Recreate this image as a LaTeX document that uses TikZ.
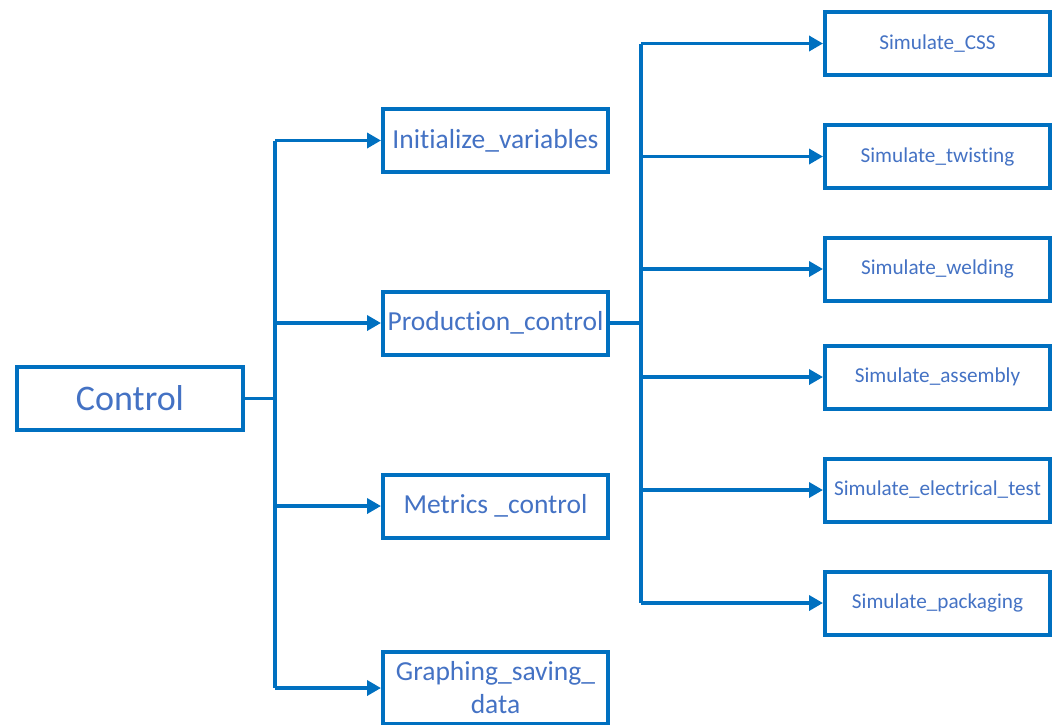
\documentclass[tikz,border=0pt]{standalone}
\usepackage{fontspec}
\setmainfont{Carlito}[Ligatures={NoCommon}]
\usetikzlibrary{arrows.meta}
\definecolor{boxblue}{HTML}{0070C0}
\definecolor{textblue}{HTML}{4472C4}
\begin{document}
\begin{tikzpicture}[x=1pt, y=-1pt, line join=miter,
    box/.style={draw=boxblue, line width=4pt, fill=white, text=textblue,
      minimum width=225pt, minimum height=63pt, inner sep=0pt, align=center},
    bigbox/.style={box, minimum width=226pt, font=\fontsize{36}{42}\selectfont},
    midbox/.style={box, font=\fontsize{27.5}{33}\selectfont},
    simbox/.style={box, font=\fontsize{21.2}{25}\selectfont},
    link/.style={draw=boxblue, line width=3.6pt},
    arr/.style={link, -{Triangle[length=14pt, width=15pt]}}]
  \useasboundingbox (0, 0) rectangle (1059, 724);
  \clip (0, 0) rectangle (1059, 724);

  % Root
  \node[bigbox] (ctrl) at (130, 398.5) {Control};

  % Second level
  \node[midbox] (init) at (495.5, 140.5) {Initialize\_variables};
  \node[midbox] (prod) at (495.5, 323) {Production\_control};
  \node[midbox] (metr) at (495.5, 506) {Metrics \_control};
  \node[midbox, minimum height=72.5pt] (graph) at (495.5, 688) {Graphing\_saving\_\\data};

  % Simulation steps
  \node[simbox] (css)   at (937.5, 43.5)  {Simulate\_CSS};
  \node[simbox] (twist) at (937.5, 156.5) {Simulate\_twisting};
  \node[simbox] (weld)  at (937.5, 269)   {Simulate\_welding};
  \node[simbox] (assy)  at (937.5, 377)   {Simulate\_assembly};
  \node[simbox] (elec)  at (937.5, 490)   {Simulate\_electrical\_test};
  \node[simbox] (pack)  at (937.5, 603)   {Simulate\_packaging};

  % Left trunk
  \coordinate (trunkL) at (275, 398.5);
  \draw[link] (ctrl.east) -- (trunkL);
  \draw[link] (trunkL |- init) -- (trunkL |- graph);
  \draw[arr] (trunkL |- init) -- (init.west);
  \draw[arr] (trunkL |- prod) -- (prod.west);
  \draw[arr] (trunkL |- metr) -- (metr.west);
  \draw[arr] (trunkL |- graph) -- (graph.west);

  % Right trunk
  \coordinate (trunkR) at (641, 323);
  \draw[link] (prod.east) -- (trunkR);
  \draw[link] (trunkR |- css) -- (trunkR |- pack);
  \draw[arr] (trunkR |- css) -- (css.west);
  \draw[arr] (trunkR |- twist) -- (twist.west);
  \draw[arr] (trunkR |- weld) -- (weld.west);
  \draw[arr] (trunkR |- assy) -- (assy.west);
  \draw[arr] (trunkR |- elec) -- (elec.west);
  \draw[arr] (trunkR |- pack) -- (pack.west);
\end{tikzpicture}
\end{document}
